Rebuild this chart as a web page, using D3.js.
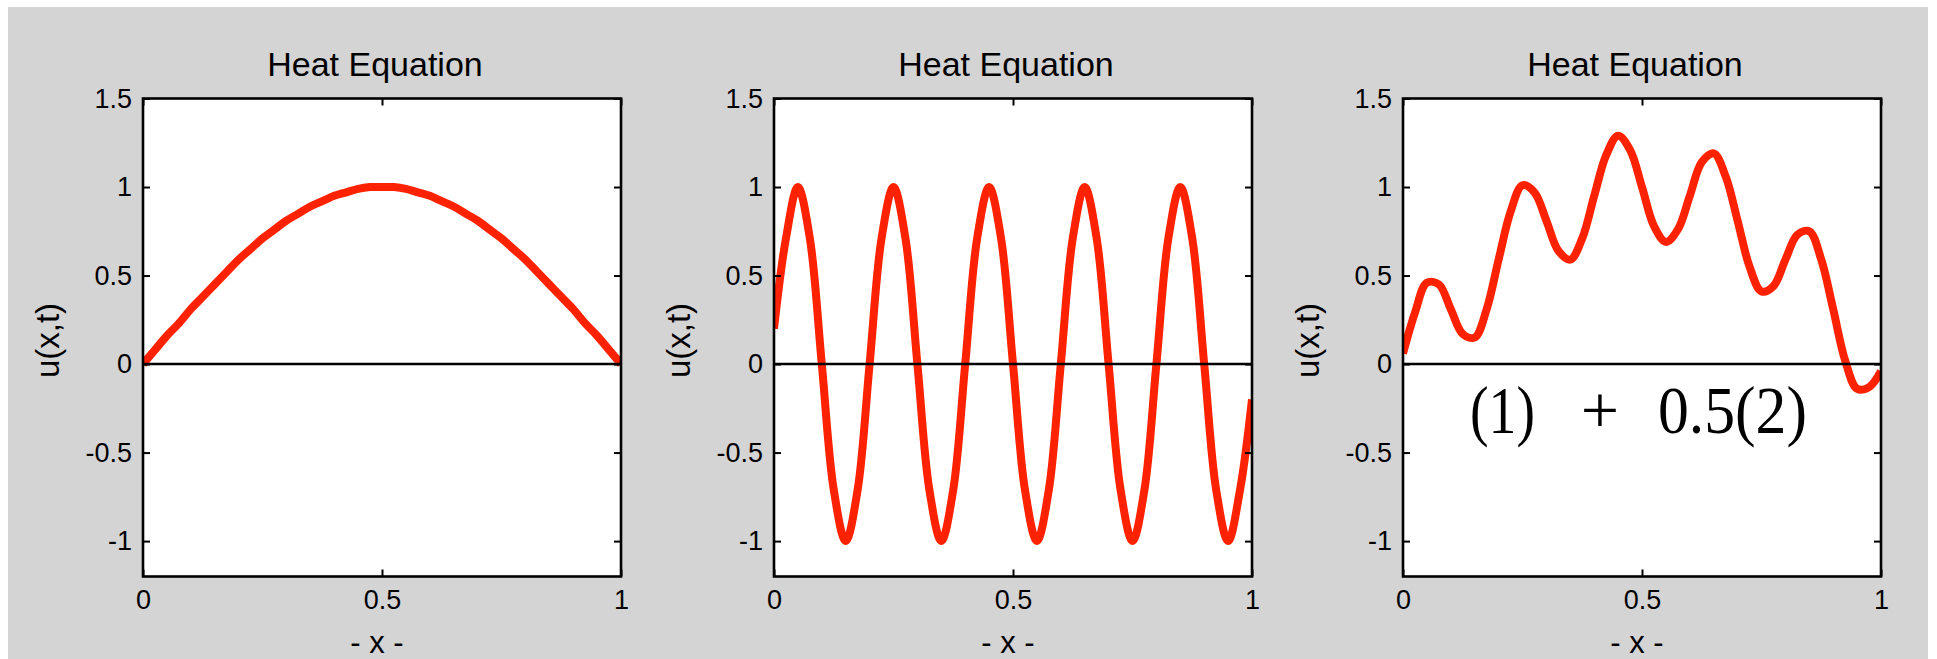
<!DOCTYPE html>
<html lang="en">
<head>
  <meta charset="UTF-8">
  <title>Heat Equation</title>
  <style>
    body {
      margin: 0;
      background: #fff;
    }

    svg text {
      font-family: "Liberation Sans", Arial, sans-serif;
      fill: #000;
    }

    .note {
      font-family: "Liberation Serif", "Times New Roman", serif;
    }
  </style>
</head>
<body>
  <svg id="chart" width="1937" height="659"></svg>

  <script src="https://d3js.org/d3.v7.min.js"></script>
  <script>
    // data
    const titles = ["Heat Equation", "Heat Equation", "Heat Equation"];
    const xLabel = "- x -";
    const yLabel = "u(x,t)";
    const xTicks = [0, 0.5, 1];
    const yTicks = [-1, -0.5, 0, 0.5, 1, 1.5];
    const noteParts = ["(1)", "+", "0.5(2)"];

    const xs = [0, 0.025, 0.05, 0.075, 0.1, 0.125, 0.15, 0.175, 0.2, 0.225,
      0.25, 0.275, 0.3, 0.325, 0.35, 0.375, 0.4, 0.425, 0.45, 0.475,
      0.5, 0.525, 0.55, 0.575, 0.6, 0.625, 0.65, 0.675, 0.7, 0.725,
      0.75, 0.775, 0.8, 0.825, 0.85, 0.875, 0.9, 0.925, 0.95, 0.975, 1];

    // panel 1: single hump
    const u1 = [0, 0.08, 0.16, 0.23, 0.31, 0.38, 0.45, 0.52, 0.59, 0.65,
      0.71, 0.76, 0.81, 0.85, 0.89, 0.92, 0.95, 0.97, 0.99, 1.0,
      1.0, 1.0, 0.99, 0.97, 0.95, 0.92, 0.89, 0.85, 0.81, 0.76,
      0.71, 0.65, 0.59, 0.52, 0.45, 0.38, 0.31, 0.23, 0.16, 0.08, 0];

    // panel 2: five waves
    const u2 = [0.2, 0.71, 1, 0.71, 0, -0.71, -1, -0.71, 0, 0.71,
      1, 0.71, 0, -0.71, -1, -0.71, 0, 0.71, 1, 0.71,
      0, -0.71, -1, -0.71, 0, 0.71, 1, 0.71, 0, -0.71,
      -1, -0.71, 0, 0.71, 1, 0.71, 0, -0.71, -1, -0.71, -0.2];

    // panel 3: the sum
    const u3 = [0.06, 0.29, 0.46, 0.45, 0.31, 0.17, 0.15, 0.31, 0.59, 0.86,
      1.01, 0.97, 0.81, 0.64, 0.59, 0.71, 0.95, 1.18, 1.29, 1.21,
      1.0, 0.78, 0.69, 0.76, 0.95, 1.14, 1.19, 1.06, 0.81, 0.55,
      0.41, 0.44, 0.59, 0.73, 0.75, 0.59, 0.31, 0.02, -0.14, -0.13, -0.04];

    const series = [u1, u2, u3];

    // layout
    const lefts = [143, 774, 1403];
    const plotW = 478;
    const plotTop = 98.5;
    const plotBottom = 576.5;
    const red = "#ff2200";

    const svg = d3.select("#chart");

    svg.append("rect")
      .attr("x", 8).attr("y", 7)
      .attr("width", 1920).attr("height", 652)
      .attr("fill", "#d4d4d4");

    series.forEach((vals, k) => {
      const left = lefts[k];
      const x = d3.scaleLinear().domain([0, 1]).range([left, left + plotW]);
      const y = d3.scaleLinear().domain([-1.2, 1.5]).range([plotBottom, plotTop]);
      const cx = left + plotW / 2;
      const g = svg.append("g");

      g.append("rect")
        .attr("x", left).attr("y", plotTop)
        .attr("width", plotW).attr("height", plotBottom - plotTop)
        .attr("fill", "#fff");

      g.append("clipPath").attr("id", "clip" + k)
        .append("rect")
        .attr("x", left).attr("y", plotTop)
        .attr("width", plotW).attr("height", plotBottom - plotTop);

      const line = d3.line()
        .x((d, i) => x(xs[i]))
        .y(d => y(d))
        .curve(d3.curveCatmullRom);

      g.append("path")
        .datum(vals)
        .attr("clip-path", `url(#clip${k})`)
        .attr("d", line)
        .attr("fill", "none")
        .attr("stroke", red)
        .attr("stroke-width", 8)
        .attr("stroke-linejoin", "round");

      // zero line
      g.append("line")
        .attr("x1", x(0)).attr("x2", x(1))
        .attr("y1", y(0)).attr("y2", y(0))
        .attr("stroke", "#000")
        .attr("stroke-width", 2.5);

      const fmt = d => String(d);

      const axes = [
        g.append("g").attr("transform", `translate(${left},0)`)
          .call(d3.axisLeft(y).tickValues(yTicks).tickSize(-7).tickPadding(11).tickFormat(fmt)),
        g.append("g").attr("transform", `translate(${left + plotW},0)`)
          .call(d3.axisRight(y).tickValues(yTicks).tickSize(-7).tickFormat("")),
        g.append("g").attr("transform", `translate(0,${plotBottom})`)
          .call(d3.axisBottom(x).tickValues(xTicks).tickSize(-7).tickPadding(13).tickFormat(fmt)),
        g.append("g").attr("transform", `translate(0,${plotTop})`)
          .call(d3.axisTop(x).tickValues(xTicks).tickSize(-7).tickFormat(""))
      ];
      axes.forEach(a => {
        a.select(".domain").remove();
        a.attr("font-size", 27);
        a.selectAll(".tick line").attr("stroke", "#000").attr("stroke-width", 2);
      });

      // frame
      g.append("rect")
        .attr("x", left).attr("y", plotTop)
        .attr("width", plotW).attr("height", plotBottom - plotTop)
        .attr("fill", "none")
        .attr("stroke", "#000")
        .attr("stroke-width", 2.6);

      g.append("text")
        .attr("x", cx - 7).attr("y", 76)
        .attr("text-anchor", "middle")
        .attr("font-size", 34)
        .text(titles[k]);

      // the x label sits right at the bottom edge, as in the original
      g.append("text")
        .attr("x", cx - 5).attr("y", 653)
        .attr("text-anchor", "middle")
        .attr("font-size", 31)
        .text(xLabel);

      g.append("text")
        .attr("transform", `translate(${left - 96},${(plotTop + plotBottom) / 2 + 3}) rotate(-90)`)
        .attr("text-anchor", "middle")
        .attr("dominant-baseline", "central")
        .attr("font-size", 33)
        .text(yLabel);

      if (k === 2) {
        const nt = g.append("g").attr("class", "note").attr("font-size", 68);
        nt.append("text").attr("class", "note")
          .attr("x", 1470).attr("y", 433)
          .attr("textLength", 65).attr("lengthAdjust", "spacingAndGlyphs")
          .text(noteParts[0]);
        nt.append("text").attr("class", "note")
          .attr("x", 1600).attr("y", 433)
          .attr("text-anchor", "middle")
          .text(noteParts[1]);
        nt.append("text").attr("class", "note")
          .attr("x", 1658).attr("y", 433)
          .attr("textLength", 149).attr("lengthAdjust", "spacingAndGlyphs")
          .text(noteParts[2]);
      }
    });
  </script>
</body>
</html>
